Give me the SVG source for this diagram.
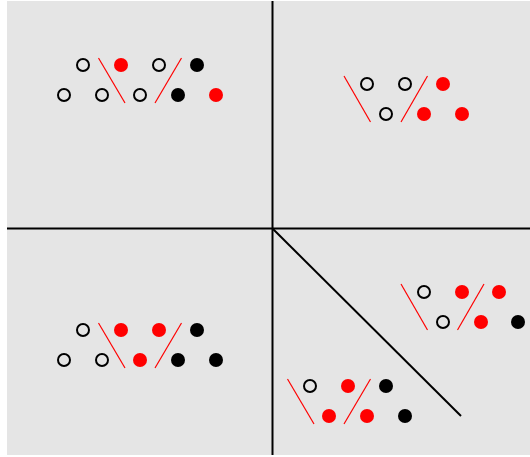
<svg xmlns="http://www.w3.org/2000/svg" width="530" height="457" viewBox="0 0 530 457">
<style>
.o{fill:none;stroke:#000;stroke-width:2}
.r{fill:#f00}
.b{fill:#000}
.s{stroke:#f00;stroke-width:1.2}
.ax{stroke:#000;stroke-width:2}
</style>
<rect x="7" y="1" width="523" height="454" fill="#e5e5e5"/>
<g id="axes">
<line class="ax" x1="272.5" y1="1" x2="272.5" y2="455"/>
<line class="ax" x1="7" y1="228.5" x2="530" y2="228.5"/>
<line class="ax" x1="272.5" y1="228.5" x2="461" y2="416"/>
</g>
<g id="q1">
<circle class="o" cx="83" cy="65" r="6"/><circle class="r" cx="121" cy="65" r="7"/><circle class="o" cx="159" cy="65" r="6"/><circle class="b" cx="197" cy="65" r="7"/>
<circle class="o" cx="64" cy="95" r="6"/><circle class="o" cx="102" cy="95" r="6"/><circle class="o" cx="140" cy="95" r="6"/><circle class="b" cx="178" cy="95" r="7"/><circle class="r" cx="216" cy="95" r="7"/>
<line class="s" x1="98.5" y1="58" x2="125" y2="103"/><line class="s" x1="181.5" y1="58" x2="155" y2="103"/>
</g>
<g id="q2">
<circle class="o" cx="367" cy="84" r="6"/><circle class="o" cx="405" cy="84" r="6"/><circle class="r" cx="443" cy="84" r="7"/>
<circle class="o" cx="386" cy="114" r="6"/><circle class="r" cx="424" cy="114" r="7"/><circle class="r" cx="462" cy="114" r="7"/>
<line class="s" x1="344" y1="76" x2="370.5" y2="122"/><line class="s" x1="427.5" y1="76" x2="401" y2="122"/>
</g>
<g id="q3">
<circle class="o" cx="83" cy="330" r="6"/><circle class="r" cx="121" cy="330" r="7"/><circle class="r" cx="159" cy="330" r="7"/><circle class="b" cx="197" cy="330" r="7"/>
<circle class="o" cx="64" cy="360" r="6"/><circle class="o" cx="102" cy="360" r="6"/><circle class="r" cx="140" cy="360" r="7"/><circle class="b" cx="178" cy="360" r="7"/><circle class="b" cx="216" cy="360" r="7"/>
<line class="s" x1="98.5" y1="323" x2="125" y2="368"/><line class="s" x1="181.5" y1="323" x2="155" y2="368"/>
</g>
<g id="q4a">
<circle class="o" cx="424" cy="292" r="6"/><circle class="r" cx="462" cy="292" r="7"/><circle class="r" cx="499" cy="292" r="7"/>
<circle class="o" cx="443" cy="322" r="6"/><circle class="r" cx="481" cy="322" r="7"/><circle class="b" cx="518" cy="322" r="7"/>
<line class="s" x1="401" y1="284" x2="427.5" y2="330"/><line class="s" x1="484" y1="284" x2="457.5" y2="330"/>
</g>
<g id="q4b">
<circle class="o" cx="310" cy="386" r="6"/><circle class="r" cx="348" cy="386" r="7"/><circle class="b" cx="386" cy="386" r="7"/>
<circle class="r" cx="329" cy="416" r="7"/><circle class="r" cx="367" cy="416" r="7"/><circle class="b" cx="405" cy="416" r="7"/>
<line class="s" x1="287.5" y1="379" x2="314" y2="424"/><line class="s" x1="370.5" y1="379" x2="344" y2="424"/>
</g>
</svg>
